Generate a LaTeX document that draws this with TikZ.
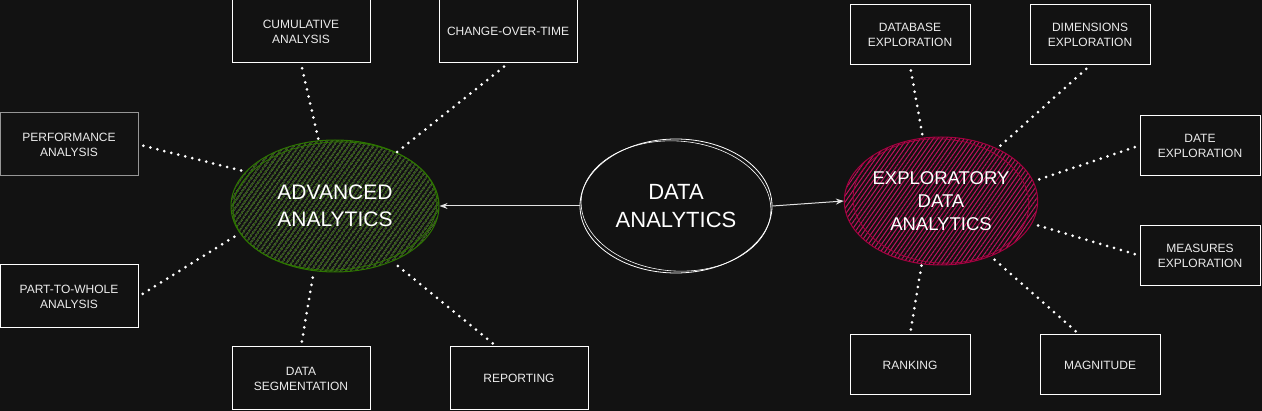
\documentclass[tikz,border=0pt]{standalone}
\usepackage{fontspec}
\setmainfont{Liberation Sans}
\usetikzlibrary{shapes.geometric,patterns.meta,arrows.meta}
\definecolor{bg}{RGB}{18,18,18}
\definecolor{boxtext}{RGB}{236,236,236}
\definecolor{boxgray}{RGB}{150,150,150}
\definecolor{advline}{RGB}{45,118,0}
\definecolor{advhatch}{RGB}{72,136,22}
\definecolor{edaline}{RGB}{165,0,64}
\definecolor{edahatch}{RGB}{190,20,92}
\definecolor{arrowline}{RGB}{225,225,225}

\begin{document}
\begin{tikzpicture}[x=1pt, y=-1pt, node distance={341pt}, >={Stealth[length=8pt,width=6pt]},
    box/.style = {draw=white, line width=1pt, fill=bg, text=boxtext, minimum width=138pt, minimum height=63pt, inner sep=0pt, align=center, font=\fontsize{12}{15}\selectfont},
    sbox/.style = {box, minimum width=120pt, minimum height=60pt},
    hub/.style = {ellipse, inner sep=0pt, align=center, text=white},
    dots/.style = {draw=white, line width=3pt, line cap=round, dash pattern=on 0pt off 7.2pt, shorten <=5pt}]
    \path[use as bounding box, fill=bg] (0,0) rectangle (1262,411);

    % the three hubs
    \node[hub, draw=white, line width=0.8pt, minimum width=192pt, minimum height=134pt, font=\fontsize{22}{28}\selectfont] (da) at (676,206) {DATA\\ANALYTICS};
    \node[hub, left of=da, draw=advline, line width=1pt, minimum width=208pt, minimum height=132pt, pattern={Lines[angle=55,distance=4pt,line width=1.1pt]}, pattern color=advhatch, font=\fontsize{21}{27}\selectfont] (adv) {ADVANCED\\ANALYTICS};
    \node[hub, right of=da, node distance=265pt, yshift=5pt, draw=edaline, line width=1pt, minimum width=180pt, minimum height=128pt, pattern={Lines[angle=55,distance=3.6pt,line width=1pt]}, pattern color=edahatch, font=\fontsize{18.5}{23}\selectfont] (eda) {EXPLORATORY\\DATA\\ANALYTICS};

    % rough second strokes
    \draw[white, line width=0.6pt, rotate around={-4:(da.center)}] (da.center) ellipse [x radius=95, y radius=65];
    \draw[advline, line width=0.8pt, rotate around={3:(adv.center)}] (adv.center) ellipse [x radius=102, y radius=64];
    \draw[edaline, line width=0.8pt, rotate around={-4:(eda.center)}] (eda.center) ellipse [x radius=88, y radius=62];

    % advanced analytics
    \node[box] (cum) at (301,31.5) {CUMULATIVE\\ANALYSIS};
    \node[box] (cot) at (508,31.5) {CHANGE-OVER-TIME};
    \node[box, draw=boxgray] (perf) at (69,144.5) {PERFORMANCE\\ANALYSIS};
    \node[box] (ptw) at (69,296.5) {PART-TO-WHOLE\\ANALYSIS};
    \node[box] (seg) at (301,378.5) {DATA\\SEGMENTATION};
    \node[box] (rep) at (519,378.5) {REPORTING};

    % exploratory data analytics
    \node[sbox] (dbx) at (910,35) {DATABASE\\EXPLORATION};
    \node[sbox] (dimx) at (1090,35) {DIMENSIONS\\EXPLORATION};
    \node[sbox] (datex) at (1200,145.5) {DATE\\EXPLORATION};
    \node[sbox] (measx) at (1200,255.5) {MEASURES\\EXPLORATION};
    \node[sbox] (rank) at (910,365) {RANKING};
    \node[sbox] (mag) at (1100,365) {MAGNITUDE};

    \draw[->, arrowline, line width=1pt] (da.west) -- (adv.east);
    \draw[->, arrowline, line width=1pt] (da.east) -- (eda.west);

    \draw[dots] (cum.south) -- (adv.104);
    \draw[dots] (cot.south) -- (adv.41);
    \draw[dots] (perf.east) -- (adv.159);
    \draw[dots] (ptw.east) -- (adv.196);
    \draw[dots] (seg.north) -- (adv.252);
    \draw[dots] (rep.125) -- (adv.316);

    \draw[dots] (dbx.south) -- (eda.106);
    \draw[dots] (dimx.south) -- (eda.43);
    \draw[dots] (datex.west) -- (eda.12);
    \draw[dots] (measx.west) -- (eda.346);
    \draw[dots] (rank.north) -- (eda.253);
    \draw[dots] (mag.124) -- (eda.312);
\end{tikzpicture}
\end{document}
